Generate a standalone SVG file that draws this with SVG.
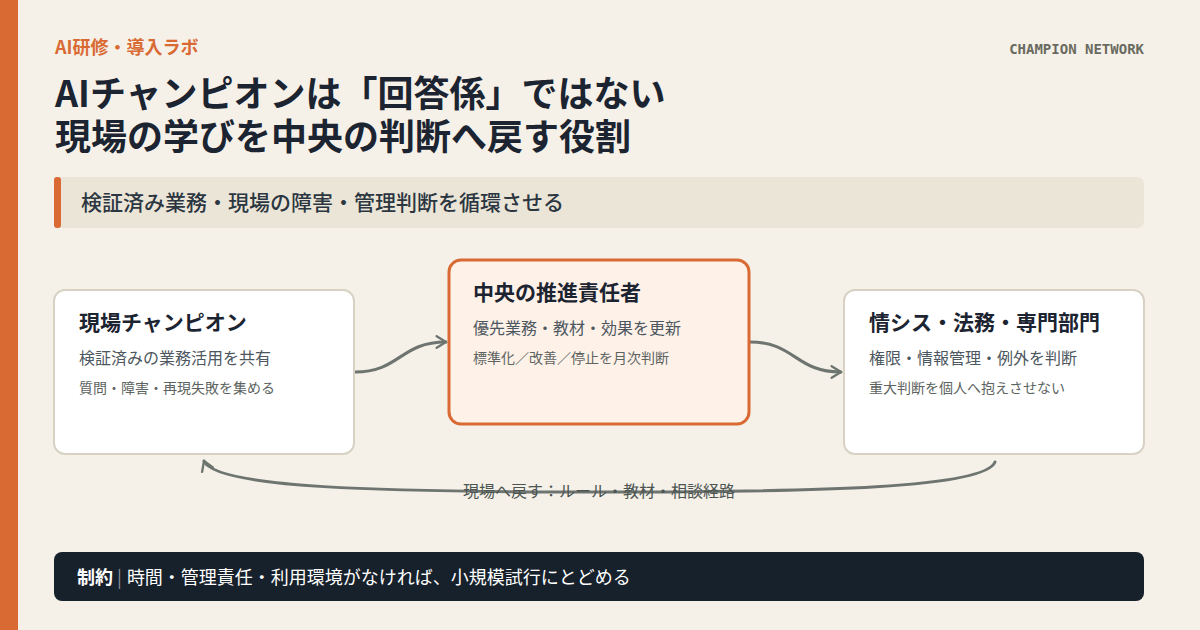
<svg xmlns="http://www.w3.org/2000/svg" width="1200" height="630" viewBox="0 0 1200 630">
<defs>
<style>
text{font-family:"Noto Sans CJK JP","Noto Sans",sans-serif;}
.kicker{font-size:18px;font-weight:700;fill:#D96A34;}
.mono{font-family:"DejaVu Sans Mono","Liberation Mono",monospace;font-size:14px;font-weight:700;fill:#6A6A60;}
.title{font-size:36px;font-weight:700;fill:#1B2430;}
.sub{font-size:21px;font-weight:500;fill:#2B3641;}
.card{fill:#FFFFFF;stroke:#D8D2C5;stroke-width:2;}
.hot{fill:#FDF1E8;stroke:#D96A34;stroke-width:3;}
.nt{font-size:21px;font-weight:700;fill:#1B2430;}
.n2{font-size:16px;fill:#4D5760;}
.n3{font-size:14px;fill:#5C6360;}
.conn{fill:none;stroke:#6E7570;stroke-width:3;stroke-linecap:round;}
.lbl{font-size:16px;fill:#4D5553;}
.foot{font-size:18px;fill:#FFFFFF;}
</style>
<marker id="arr" viewBox="0 0 12 12" refX="10" refY="6" markerWidth="14" markerHeight="14" markerUnits="userSpaceOnUse" orient="auto">
<path d="M2,1 L10,6 L2,11" fill="none" stroke="#6E7570" stroke-width="2" stroke-linecap="round" stroke-linejoin="round"/>
</marker>
</defs>
<rect x="0" y="0" width="1200" height="630" fill="#F5F1E8"/>
<rect x="0" y="0" width="18" height="630" fill="#D96A34"/>

<g id="header">
<text class="kicker" x="55" y="54">AI研修・導入ラボ</text>
<text class="mono" x="1144" y="54" text-anchor="end">CHAMPION NETWORK</text>
<text class="title" x="55" y="107">AIチャンピオンは「回答係」ではない</text>
<text class="title" x="55" y="150">現場の学びを中央の判断へ戻す役割</text>
</g>

<g id="banner">
<rect x="54" y="177" width="1090" height="51" rx="7" fill="#EBE5D8"/>
<rect x="54" y="177" width="7" height="51" rx="3" fill="#D96A34"/>
<text class="sub" x="81" y="210">検証済み業務・現場の障害・管理判断を循環させる</text>
</g>

<g id="connectors">
<path class="conn" d="M355,372 C400,372 400,342 446,342" marker-end="url(#arr)"/>
<path class="conn" d="M750,342 C795,342 795,372 841,372" marker-end="url(#arr)"/>
<path class="conn" d="M995,462 C985,488 820,492 600,492 C380,492 215,488 204,461" marker-end="url(#arr)"/>
<text class="lbl" x="599" y="497" text-anchor="middle">現場へ戻す：ルール・教材・相談経路</text>
</g>

<g id="node-field">
<rect class="card" x="54" y="290" width="300" height="164" rx="11"/>
<text class="nt" x="79" y="330">現場チャンピオン</text>
<text class="n2" x="79" y="364">検証済みの業務活用を共有</text>
<text class="n3" x="79" y="393">質問・障害・再現失敗を集める</text>
</g>

<g id="node-central">
<rect class="hot" x="449" y="260" width="300" height="164" rx="12"/>
<text class="nt" x="473" y="300">中央の推進責任者</text>
<text class="n2" x="473" y="334">優先業務・教材・効果を更新</text>
<text class="n3" x="473" y="363">標準化／改善／停止を月次判断</text>
</g>

<g id="node-experts">
<rect class="card" x="844" y="290" width="300" height="164" rx="11"/>
<text class="nt" x="869" y="330">情シス・法務・専門部門</text>
<text class="n2" x="869" y="364">権限・情報管理・例外を判断</text>
<text class="n3" x="869" y="393">重大判断を個人へ抱えさせない</text>
</g>

<g id="footer">
<rect x="54" y="552" width="1090" height="49" rx="8" fill="#17212B"/>
<text class="foot" x="77" y="584"><tspan font-weight="700">制約</tspan><tspan fill="#8A9096" dx="4">|</tspan><tspan dx="5">時間・管理責任・利用環境がなければ、小規模試行にとどめる</tspan></text>
</g>
</svg>
